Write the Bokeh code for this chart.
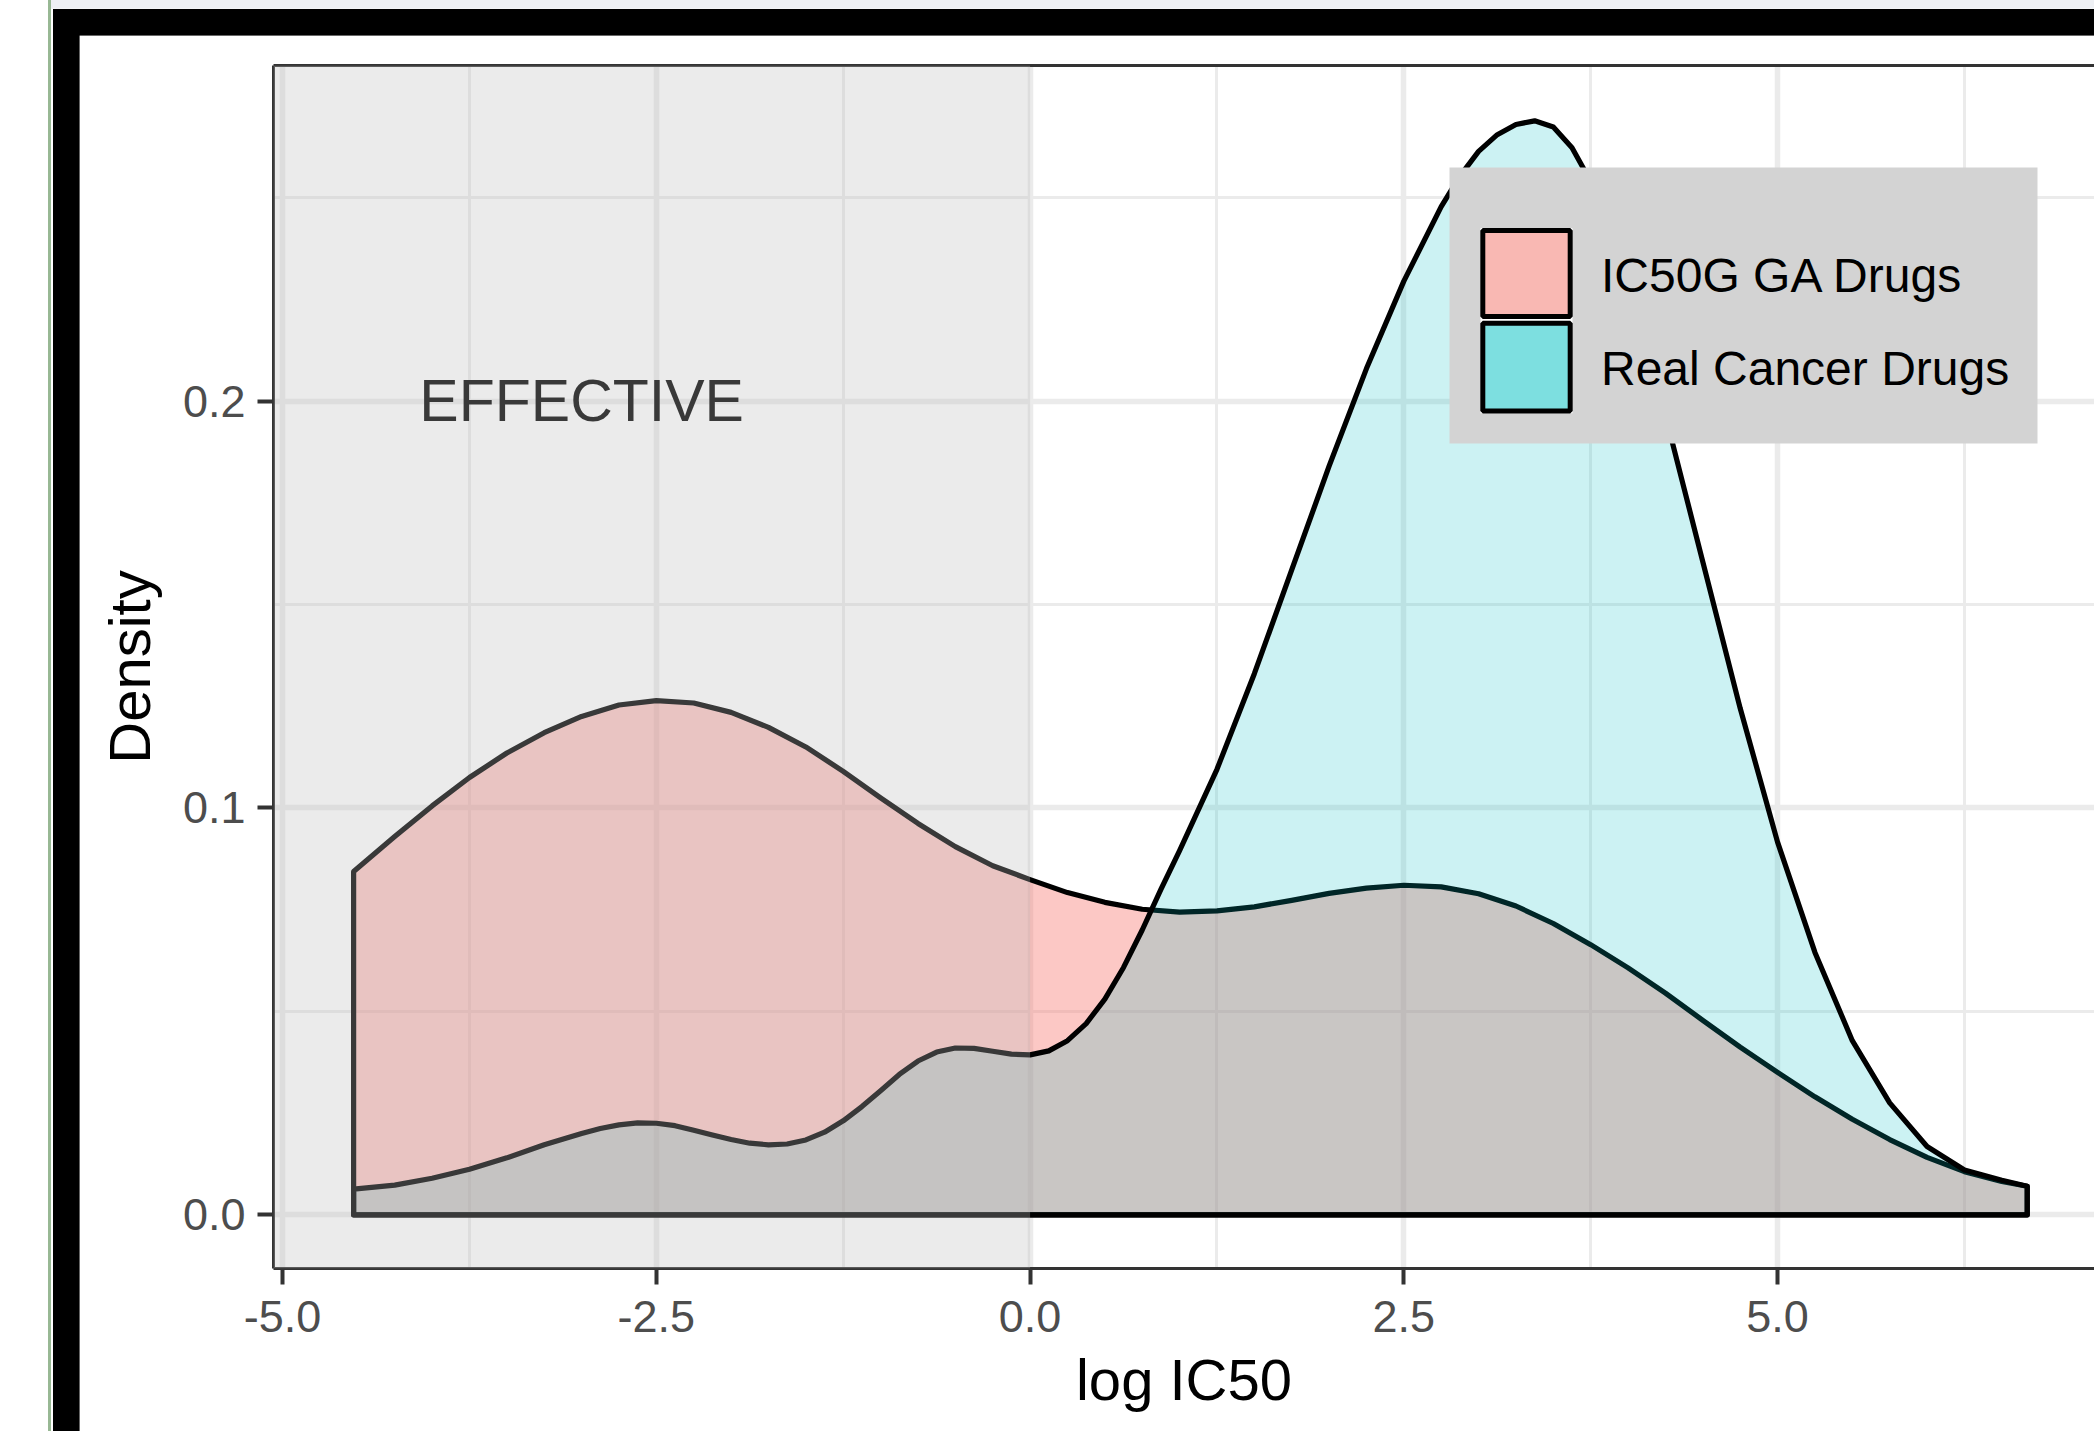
from bokeh.plotting import figure
from bokeh.models import (Range1d, FixedTicker, LinearAxis, BoxAnnotation,
                          Legend, LegendItem)
from bokeh.core.properties import value
from bokeh.embed import file_html
from bokeh.resources import INLINE

# ---------------- data ----------------
series_names = ["IC50G GA Drugs", "Real Cancer Drugs"]
series_fill = ["#F8766D", "#00BFC4"]
series_key = ["#F9B8B3", "#7DDFE0"]

ga_x = [-4.525, -4.25, -4.0, -3.75, -3.5, -3.25, -3.0, -2.75, -2.5, -2.25,
        -2.0, -1.75, -1.5, -1.25, -1.0, -0.75, -0.5, -0.25, 0.0, 0.25,
        0.5, 0.75, 1.0, 1.25, 1.5, 1.75, 2.0, 2.25, 2.5, 2.75,
        3.0, 3.25, 3.5, 3.75, 4.0, 4.25, 4.5, 4.75, 5.0, 5.25,
        5.5, 5.75, 6.0, 6.25, 6.5, 6.67]
ga_density = [0.0844, 0.0930, 0.1005, 0.1075, 0.1135, 0.1185, 0.1225, 0.1253, 0.1264, 0.1258,
              0.1235, 0.1198, 0.1150, 0.1090, 0.1025, 0.0962, 0.0905, 0.0858, 0.0824, 0.0792,
              0.0768, 0.0751, 0.0744, 0.0747, 0.0757, 0.0773, 0.0790, 0.0803, 0.0810, 0.0806,
              0.0789, 0.0759, 0.0716, 0.0664, 0.0607, 0.0545, 0.0478, 0.0412, 0.0350, 0.0290,
              0.0235, 0.0185, 0.0141, 0.0106, 0.0082, 0.0070]

real_x = [-4.525, -4.25, -4.0, -3.75, -3.5, -3.25, -3.0, -2.875, -2.75, -2.625,
          -2.5, -2.375, -2.25, -2.125, -2.0, -1.875, -1.75, -1.625, -1.5, -1.375,
          -1.25, -1.125, -1.0, -0.875, -0.75, -0.625, -0.5, -0.375, -0.25, -0.125,
          0.0, 0.125, 0.25, 0.375, 0.5, 0.625, 0.75, 0.875, 1.0, 1.25,
          1.5, 1.75, 2.0, 2.25, 2.5, 2.75, 2.875, 3.0, 3.125, 3.25,
          3.375, 3.5, 3.625, 3.75, 3.875, 4.0, 4.125, 4.25, 4.375, 4.5,
          4.75, 5.0, 5.25, 5.5, 5.75, 6.0, 6.25, 6.5, 6.67]
real_density = [0.0063, 0.0073, 0.0090, 0.0112, 0.0140, 0.0172, 0.0200, 0.0212, 0.0221, 0.0226,
                0.0225, 0.0219, 0.0208, 0.0196, 0.0185, 0.0176, 0.0172, 0.0174, 0.0184, 0.0203,
                0.0231, 0.0266, 0.0305, 0.0345, 0.0378, 0.0400, 0.0410, 0.0409, 0.0402, 0.0395,
                0.0393, 0.0403, 0.0428, 0.0470, 0.0530, 0.0608, 0.0700, 0.0800, 0.0895, 0.1095,
                0.1330, 0.1585, 0.1840, 0.2080, 0.2295, 0.2478, 0.2553, 0.2614, 0.2655, 0.2680,
                0.2689, 0.2674, 0.2623, 0.2540, 0.2428, 0.2292, 0.2135, 0.1965, 0.1785, 0.1605,
                0.1245, 0.0916, 0.0645, 0.0428, 0.0275, 0.0168, 0.0110, 0.0085, 0.0070]

x_ticks = [-5.0, -2.5, 0.0, 2.5, 5.0]
x_tick_labels = ["-5.0", "-2.5", "0.0", "2.5", "5.0"]
x_minor_ticks = [-3.75, -1.25, 1.25, 3.75, 6.25]
y_ticks = [0.0, 0.1, 0.2]
y_tick_labels = ["0.0", "0.1", "0.2"]
y_minor_ticks = [0.05, 0.15, 0.25]

effective_limit = 0.0
annotation_text = "EFFECTIVE"
annotation_x = -3.0
annotation_y = 0.2

# ---------------- layout constants ----------------
W, H = 2094, 1431
FRAME_L, FRAME_R, FRAME_T, FRAME_B = 273, 2094, 65, 1268
X0, X1 = -5.061, 7.12
Y0, Y1 = -0.0132, 0.2825
FONT = "Liberation Sans"
LINE_W = 5.2

def px_to_x(px):
    return X0 + (px - FRAME_L) / (FRAME_R - FRAME_L) * (X1 - X0)

def py_to_y(py):
    return Y0 + (FRAME_B - py) / (FRAME_B - FRAME_T) * (Y1 - Y0)

p = figure(width=W, height=H, output_backend="svg", toolbar_location=None,
           x_range=Range1d(X0, X1), y_range=Range1d(Y0, Y1),
           min_border_left=FRAME_L, min_border_right=W - FRAME_R,
           min_border_top=FRAME_T, min_border_bottom=H - FRAME_B,
           x_axis_label="log IC50", y_axis_label="Density")
p.outline_line_color = None
p.background_fill_color = "white"
# transparent border so the page background (screenshot frame) shows through
p.border_fill_color = None
frame_layers = [
    "linear-gradient(#000000,#000000) 52.7px 8.7px / 26.6px 1422.3px no-repeat",
    "linear-gradient(#000000,#000000) 52.7px 8.7px / 2041.3px 26.6px no-repeat",
    "linear-gradient(#eef0f4,#eef0f4) 51px 0px / 2043px 8.7px no-repeat",
    "linear-gradient(#98b894,#98b894) 48px 0px / 3px 1431px no-repeat",
]
p.styles = {"background": ", ".join(frame_layers) + ", #ffffff"}

# ticks / grids
xt = FixedTicker(ticks=x_ticks, minor_ticks=x_minor_ticks)
yt = FixedTicker(ticks=y_ticks, minor_ticks=y_minor_ticks)
p.xaxis.ticker = xt
p.yaxis.ticker = yt
p.xgrid.ticker = xt
p.ygrid.ticker = yt
p.xaxis.major_label_overrides = dict(zip(x_ticks, x_tick_labels))
p.yaxis.major_label_overrides = dict(zip(y_ticks, y_tick_labels))

for g in (p.xgrid[0], p.ygrid[0]):
    g.grid_line_color = "#ebebeb"
    g.grid_line_width = 5.5
    g.minor_grid_line_color = "#ebebeb"
    g.minor_grid_line_width = 3

for ax in (p.xaxis[0], p.yaxis[0]):
    ax.axis_line_color = "#333333"
    ax.axis_line_width = 3
    ax.major_tick_line_color = "#333333"
    ax.major_tick_line_width = 4
    ax.major_tick_out = 16
    ax.major_tick_in = 0
    ax.minor_tick_out = 0
    ax.minor_tick_in = 0
    ax.major_label_text_font = FONT
    ax.major_label_text_font_size = "45px"
    ax.major_label_text_color = "#4d4d4d"
    ax.axis_label_text_font = FONT
    ax.axis_label_text_font_size = "58px"
    ax.axis_label_text_font_style = "normal"
    ax.axis_label_text_color = "black"
p.xaxis[0].major_label_standoff = 16
p.xaxis[0].axis_label_standoff = 12
p.yaxis[0].major_label_standoff = 12
p.yaxis[0].axis_label_standoff = 18

top_axis = LinearAxis(ticker=FixedTicker(ticks=[]), axis_line_color="#333333",
                      axis_line_width=3, major_tick_out=0, major_tick_in=0,
                      minor_tick_out=0, minor_tick_in=0,
                      major_label_text_font_size="0px")
p.add_layout(top_axis, "above")

# densities
p.patch([ga_x[0]] + ga_x + [ga_x[-1]], [0] + ga_density + [0],
        fill_color=series_fill[0], fill_alpha=0.4, line_color="black",
        line_width=LINE_W, line_join="round")
p.patch([real_x[0]] + real_x + [real_x[-1]], [0] + real_density + [0],
        fill_color=series_fill[1], fill_alpha=0.2, line_color="black",
        line_width=LINE_W, line_join="round")

p.text(x=[annotation_x], y=[annotation_y], text=[annotation_text],
       text_font=value(FONT), text_font_size="59px", text_color="black",
       text_align="center", text_baseline="middle")

# shaded "effective" region, drawn above the densities
p.add_layout(BoxAnnotation(right=effective_limit, fill_color="#bebebe",
                           fill_alpha=0.3, line_color=None))

# legend background box
p.add_layout(BoxAnnotation(left=px_to_x(1449), right=px_to_x(2037),
                           top=py_to_y(167), bottom=py_to_y(443),
                           fill_color="#d3d3d3", fill_alpha=1, line_color=None))

# legend key squares (white key background + outlined colour swatches)
p.add_layout(BoxAnnotation(left=px_to_x(1480), right=px_to_x(1572),
                           top=py_to_y(227.7), bottom=py_to_y(412.7),
                           fill_color="white", fill_alpha=1, line_color=None))
for (t, b, c) in [(230.0, 316.0, series_key[0]), (322.7, 410.5, series_key[1])]:
    p.add_layout(BoxAnnotation(left=px_to_x(1482.3), right=px_to_x(1569.7),
                               top=py_to_y(t), bottom=py_to_y(b),
                               fill_color=c, fill_alpha=1,
                               line_color="black", line_alpha=1, line_width=5))

# legend (labels; swatches are the key squares above)
nan = float("nan")
key_ga = p.patch([nan], [nan], fill_color=series_key[0], fill_alpha=0, line_alpha=0)
key_real = p.patch([nan], [nan], fill_color=series_key[1], fill_alpha=0, line_alpha=0)
legend = Legend(items=[LegendItem(label=series_names[0], renderers=[key_ga]),
                       LegendItem(label=series_names[1], renderers=[key_real])],
                location=(1204, FRAME_B - 415),
                glyph_width=92, glyph_height=93, spacing=0, padding=10,
                label_standoff=32, margin=0,
                label_text_font=FONT, label_text_font_size="48px",
                label_text_color="black",
                background_fill_alpha=0, border_line_color=None)
p.add_layout(legend, "center")

open("out.html", "w").write(file_html(p, INLINE))
